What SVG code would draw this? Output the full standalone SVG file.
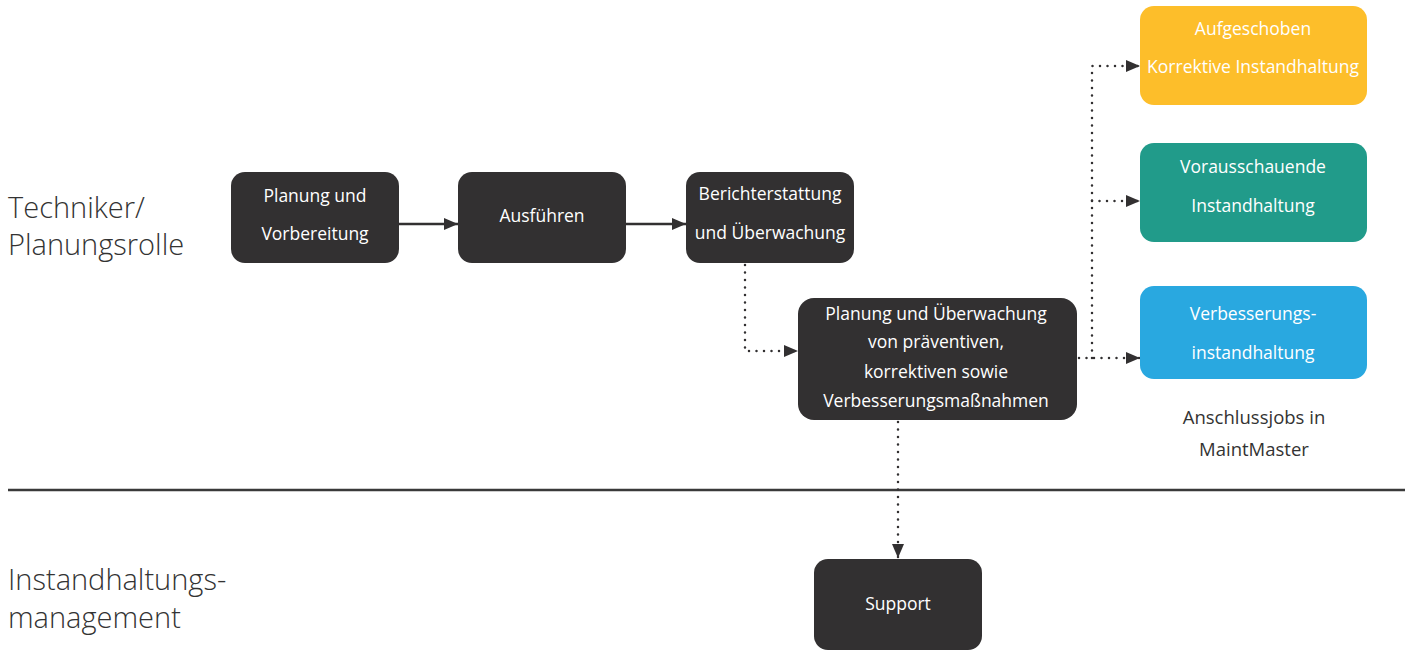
<svg xmlns="http://www.w3.org/2000/svg" width="1405" height="651" viewBox="0 0 1405 651">
<defs>
<style>
.dark{fill:#323031}
.nt{font-family:"Open Sans","Liberation Sans",sans-serif;fill:#ffffff;text-anchor:middle;font-size:17.5px}
.lane{font-family:"Open Sans","Liberation Sans",sans-serif;fill:#333333;font-size:29px;font-weight:300}
.note{font-family:"Open Sans","Liberation Sans",sans-serif;fill:#333333;font-size:18.5px;text-anchor:middle}
.solid{stroke:#323031;stroke-width:2.5;fill:none}
.dot{stroke:#323031;stroke-width:2.5;fill:none;stroke-dasharray:0 7.5;stroke-linecap:round}
</style>
<marker id="ah" viewBox="0 0 14 12" refX="14" refY="6" markerWidth="14" markerHeight="12" markerUnits="userSpaceOnUse" orient="auto">
<path d="M0,0 L14,6 L0,12 Z" fill="#323031"/>
</marker>
</defs>
<rect width="1405" height="651" fill="#ffffff"/>
<g id="lanes">
<text class="lane" x="8" y="218">Techniker/</text>
<text class="lane" x="8" y="255">Planungsrolle</text>
<text class="lane" x="8" y="590">Instandhaltungs-</text>
<text class="lane" x="8" y="628">management</text>
<line x1="8" y1="490" x2="1405" y2="490" stroke="#3a3a3a" stroke-width="2.5"/>
</g>
<g id="connectors">
<line class="solid" x1="399" y1="224" x2="458" y2="224" marker-end="url(#ah)"/>
<line class="solid" x1="626" y1="224" x2="686" y2="224" marker-end="url(#ah)"/>
<polyline class="dot" points="745,265 745,351 798,351" marker-end="url(#ah)"/>
<polyline class="dot" points="1079,358 1092,358 1140,358" marker-end="url(#ah)"/>
<polyline class="dot" points="1092,358 1092,66 1140,66" marker-end="url(#ah)"/>
<polyline class="dot" points="1092,201 1140,201" marker-end="url(#ah)"/>
<line class="dot" x1="898" y1="422" x2="898" y2="558" marker-end="url(#ah)"/>
</g>
<g id="n1">
<rect class="dark" x="231" y="172" width="168" height="91" rx="14"/>
<text class="nt" x="315" y="202">Planung und</text>
<text class="nt" x="315" y="240">Vorbereitung</text>
</g>
<g id="n2">
<rect class="dark" x="458" y="172" width="168" height="91" rx="14"/>
<text class="nt" x="542" y="222">Ausführen</text>
</g>
<g id="n3">
<rect class="dark" x="686" y="172" width="168" height="91" rx="14"/>
<text class="nt" x="770" y="200">Berichterstattung</text>
<text class="nt" x="770" y="239">und Überwachung</text>
</g>
<g id="n4">
<rect class="dark" x="798" y="298" width="279" height="122" rx="16"/>
<text class="nt" x="936" y="320" font-size="15.8">Planung und Überwachung</text>
<text class="nt" x="936" y="348" font-size="15.8">von präventiven,</text>
<text class="nt" x="936" y="378" font-size="15.8">korrektiven sowie</text>
<text class="nt" x="936" y="407" font-size="15.8">Verbesserungsmaßnahmen</text>
</g>
<g id="n5">
<rect class="dark" x="814" y="559" width="168" height="91" rx="14"/>
<text class="nt" x="898" y="610">Support</text>
</g>
<g id="n6">
<rect x="1140" y="6" width="227" height="99" rx="14" fill="#fdbe2a"/>
<text class="nt" x="1253" y="35">Aufgeschoben</text>
<text class="nt" x="1253" y="73">Korrektive Instandhaltung</text>
</g>
<g id="n7">
<rect x="1140" y="143" width="227" height="99" rx="14" fill="#219b8a"/>
<text class="nt" x="1253" y="173">Vorausschauende</text>
<text class="nt" x="1253" y="212">Instandhaltung</text>
</g>
<g id="n8">
<rect x="1140" y="286" width="227" height="93" rx="14" fill="#29a8e0"/>
<text class="nt" x="1253" y="320">Verbesserungs-</text>
<text class="nt" x="1253" y="359">instandhaltung</text>
</g>
<g id="note">
<text class="note" x="1254" y="424">Anschlussjobs in</text>
<text class="note" x="1254" y="456">MaintMaster</text>
</g>
</svg>
